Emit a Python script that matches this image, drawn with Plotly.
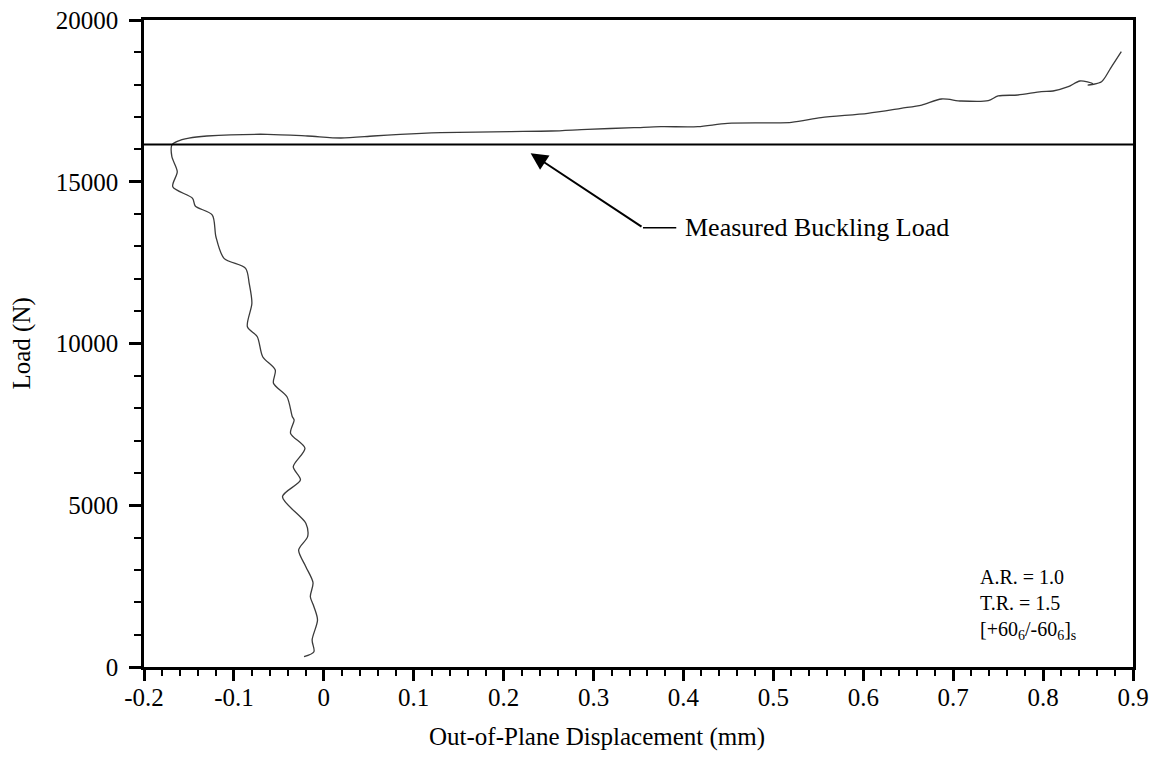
import plotly.graph_objects as go

# out-of-plane displacement (mm) and load (N)
# lower branch: from the start of loading up to buckling
disp_pre = [-0.022, -0.011, -0.013, -0.007, -0.011, -0.015, -0.012, -0.020, -0.028,
            -0.018, -0.020, -0.046, -0.026, -0.034, -0.021, -0.037, -0.033, -0.035,
            -0.041, -0.056, -0.054, -0.068, -0.074, -0.085, -0.080, -0.083, -0.087,
            -0.111, -0.120, -0.124, -0.143, -0.146, -0.168, -0.163, -0.169, -0.169]
load_pre = [318, 473, 835, 1453, 1864, 2173, 2606, 3102, 3617,
            4030, 4442, 5264, 5781, 6192, 6760, 7224, 7635, 7737,
            8355, 8770, 9181, 9592, 10210, 10519, 11243, 11861, 12324,
            12633, 13301, 13972, 14250, 14488, 14847, 15311, 15774, 16136]
# upper branch: post-buckling
disp_post = [-0.163, -0.150, -0.130, -0.063, -0.018, 0.019, 0.055, 0.085, 0.130,
             0.208, 0.253, 0.293, 0.345, 0.375, 0.416, 0.449, 0.520, 0.553,
             0.605, 0.642, 0.665, 0.687, 0.709, 0.739, 0.750, 0.772, 0.798,
             0.811, 0.828, 0.841, 0.855, 0.850, 0.865, 0.875, 0.887]
load_post = [16250, 16350, 16414, 16467, 16414, 16352, 16414, 16467, 16519,
             16550, 16569, 16621, 16671, 16702, 16702, 16806, 16837, 16981,
             17115, 17270, 17372, 17558, 17496, 17505, 17651, 17682, 17784,
             17805, 17938, 18114, 18030, 17985, 18093, 18506, 19020]

buckling_load = 16150

x_ticks = [-0.2, -0.1, 0, 0.1, 0.2, 0.3, 0.4, 0.5, 0.6, 0.7, 0.8, 0.9]
x_tick_labels = ["-0.2", "-0.1", "0", "0.1", "0.2", "0.3", "0.4", "0.5", "0.6",
                 "0.7", "0.8", "0.9"]
y_ticks = [0, 5000, 10000, 15000, 20000]
y_tick_labels = ["0", "5000", "10000", "15000", "20000"]

serif = "Liberation Serif"

fig = go.Figure()

fig.add_trace(go.Scatter(
    x=disp_pre + disp_post, y=load_pre + load_post,
    mode="lines",
    line=dict(color="#3a3a3a", width=1.3, shape="spline", smoothing=0.8),
    showlegend=False, hoverinfo="skip"))

fig.add_hline(y=buckling_load, line=dict(color="black", width=2))

# arrow pointing at the buckling line
fig.add_annotation(x=0.230, y=15880, ax=0.355, ay=13580, xref="x", yref="y",
                   axref="x", ayref="y", text="", showarrow=True,
                   arrowhead=2, arrowsize=1.7, arrowwidth=2, arrowcolor="black")
fig.add_shape(type="line", x0=0.355, y0=13580, x1=0.392, y1=13580,
              xref="x", yref="y", line=dict(color="black", width=1.5))
fig.add_annotation(x=0.399, y=13580, xref="x", yref="y", text="Measured Buckling Load",
                   showarrow=False, xanchor="left", yanchor="middle",
                   font=dict(family=serif, size=26, color="black"))

spec = ["A.R. = 1.0", "T.R. = 1.5", "[+60<sub>6</sub>/-60<sub>6</sub>]<sub>s</sub>"]
for txt, yy in zip(spec, [2780, 1980, 1130]):
    fig.add_annotation(x=0.728, y=yy, xref="x", yref="y", text=txt,
                       showarrow=False, xanchor="left", yanchor="middle",
                       font=dict(family=serif, size=20, color="black"))

# axis titles
fig.add_annotation(x=0.304, y=-0.108, xref="x", yref="paper",
                   text="Out-of-Plane Displacement (mm)", showarrow=False,
                   xanchor="center", yanchor="middle",
                   font=dict(family=serif, size=25, color="black"))
fig.add_annotation(x=0, y=0.5, xref="paper", yref="paper", xshift=-123,
                   text="Load (N)", textangle=-90, showarrow=False,
                   xanchor="center", yanchor="middle",
                   font=dict(family=serif, size=25, color="black"))

fig.update_xaxes(
    range=[-0.2, 0.9], tickvals=x_ticks, ticktext=x_tick_labels,
    showgrid=False, zeroline=False, automargin=False, ticklabeloverflow="allow",
    showline=True, linecolor="black", linewidth=2.5, mirror=True,
    ticks="outside", ticklen=11, tickwidth=2.5, tickcolor="black",
    ticklabelstandoff=-5,
    minor=dict(dtick=0.02, tick0=-0.2, ticks="outside", ticklen=6, tickwidth=1.5,
               tickcolor="black", showgrid=False),
    tickfont=dict(family=serif, size=25, color="black"))

fig.update_yaxes(
    range=[0, 20000], tickvals=y_ticks, ticktext=y_tick_labels,
    showgrid=False, zeroline=False, automargin=False, ticklabeloverflow="allow",
    showline=True, linecolor="black", linewidth=2.5, mirror=True,
    ticks="outside", ticklen=12, tickwidth=2.5, tickcolor="black",
    ticklabelstandoff=6,
    minor=dict(dtick=1000, ticks="outside", ticklen=7, tickwidth=1.5,
               tickcolor="black", showgrid=False),
    tickfont=dict(family=serif, size=25, color="black"))

# the page body adds an 8 px margin, so the figure is a bit smaller than the window
fig.update_layout(
    width=1153, height=751,
    margin=dict(l=136, r=28, t=12, b=92),
    plot_bgcolor="white", paper_bgcolor="white",
    font=dict(family=serif, color="black"))

fig.write_html("out.html")
